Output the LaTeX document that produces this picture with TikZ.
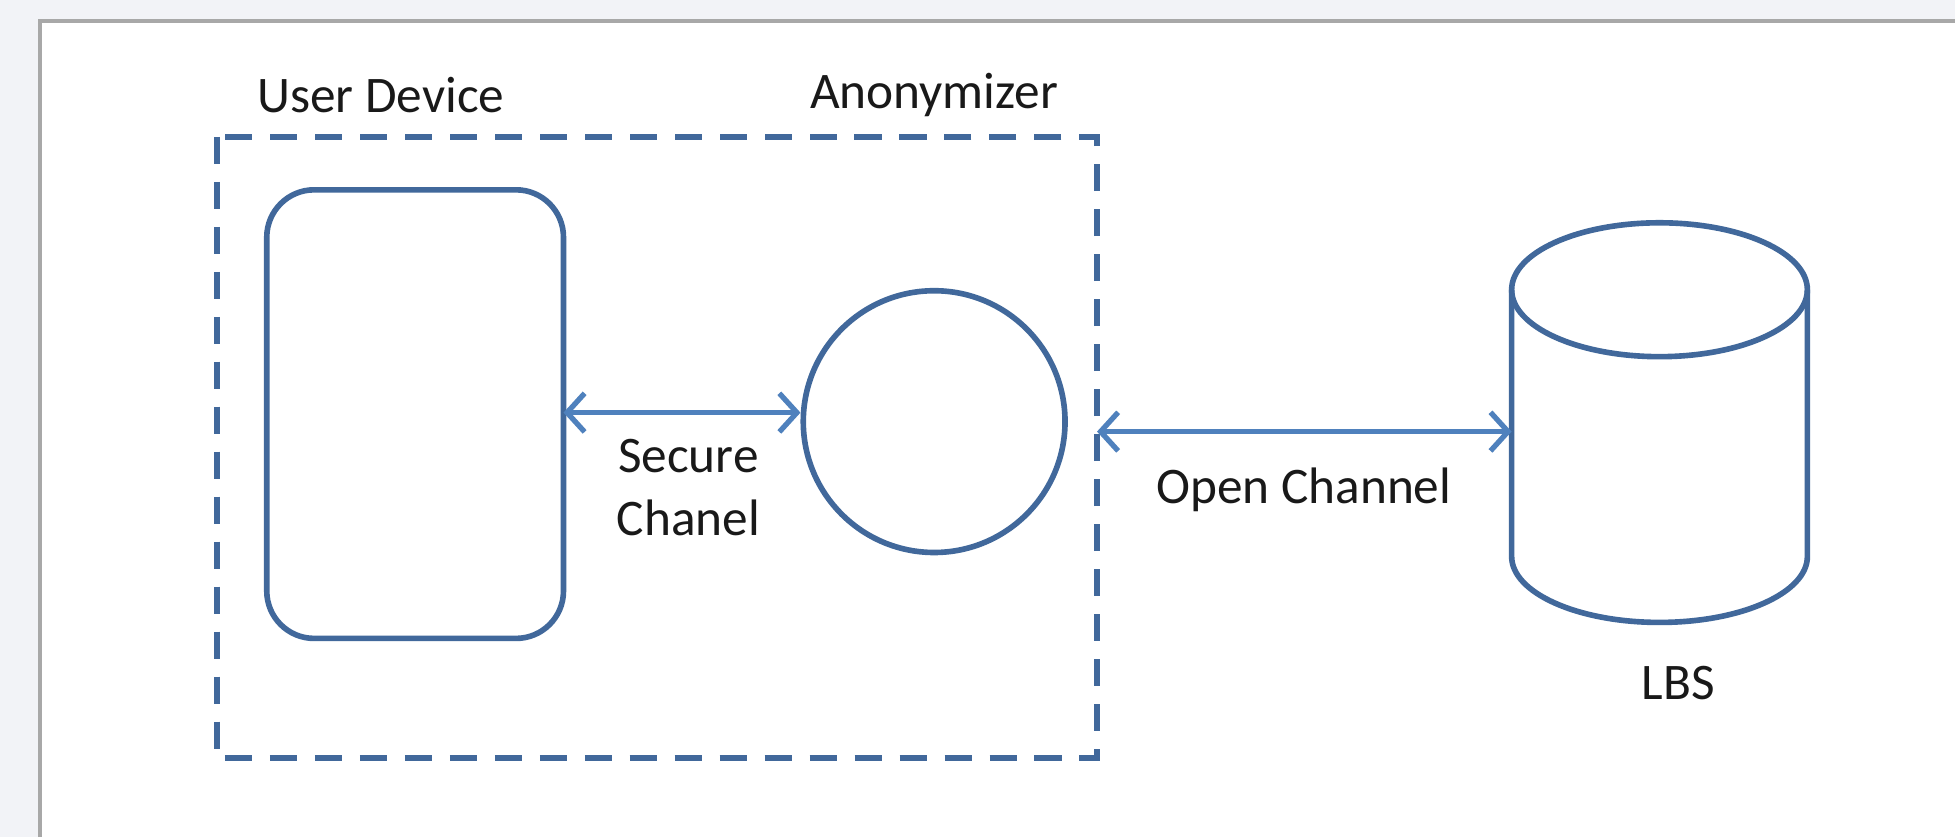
\documentclass[tikz,border=0pt]{standalone}
\usepackage{fontspec}
\setmainfont{Carlito}
\usetikzlibrary{arrows.meta,shapes.geometric}
\definecolor{pagebg}{HTML}{F2F3F7}
\definecolor{pageedge}{HTML}{A8A8A8}
\definecolor{shapeblue}{HTML}{41689B}
\definecolor{arrowblue}{HTML}{4F81BD}
\tikzset{
  barbtip/.tip={Straight Barb[length=5pt,width=11pt,line width=1.5pt]},
  shapeline/.style={draw=shapeblue, line width=1.6pt},
  boundary/.style={draw=shapeblue, line width=1.6pt, dash pattern=on 7.7pt off 5.1pt},
  link/.style={draw=arrowblue, line width=1.5pt, barbtip-barbtip},
  lbl/.style={font=\fontsize{14.6}{18}\selectfont, text=black!90, inner sep=0pt, align=center}
}
\begin{document}
\begin{tikzpicture}[x=0.01cm, y=-0.01cm]
  % canvas and page sheet
  \fill[pagebg] (0,0) rectangle (1957,838);
  \fill[white] (40,21) rectangle (1957,838);
  \draw[pageedge, line width=1pt] (40,838) -- (40,21) -- (1957,21);
  \useasboundingbox (0,0) rectangle (1957,838);

  % trusted zone
  \draw[boundary] (217,137) rectangle (1098,759);

  % user device
  \draw[shapeline, rounded corners=13.5pt] (267,190) rectangle (564,639);
  \coordinate (dev) at (564,413);

  % anonymizer
  \node[shapeline, circle, minimum size=262*0.01cm, inner sep=0pt] (anon) at (935,422) {};

  % location-based service database
  \coordinate (lbsc) at (1661,290);
  \draw[shapeline] (1513,290) -- (1513,557)
        arc[start angle=180, end angle=0, x radius=148, y radius=66] -- (1809,290);
  \draw[shapeline] (lbsc) ellipse[x radius=148, y radius=67];
  \coordinate (lbs) at (1513,432);
  \coordinate (zone) at (1098,432);

  % channels
  \draw[link] (dev) -- (anon.west |- dev);
  \draw[link] (zone) -- (lbs);

  % labels
  \node[lbl] (tdev) at (381,95) {User Device};
  \node[lbl] (tanon) at (935,95) {Anonymizer};
  \node[lbl] (tsec) at (689,488) {Secure\\Chanel};
  \node[lbl] (topen) at (1305,490) {Open Channel};
  \node[lbl] (tlbs) at (1680,684) {LBS};
\end{tikzpicture}
\end{document}
